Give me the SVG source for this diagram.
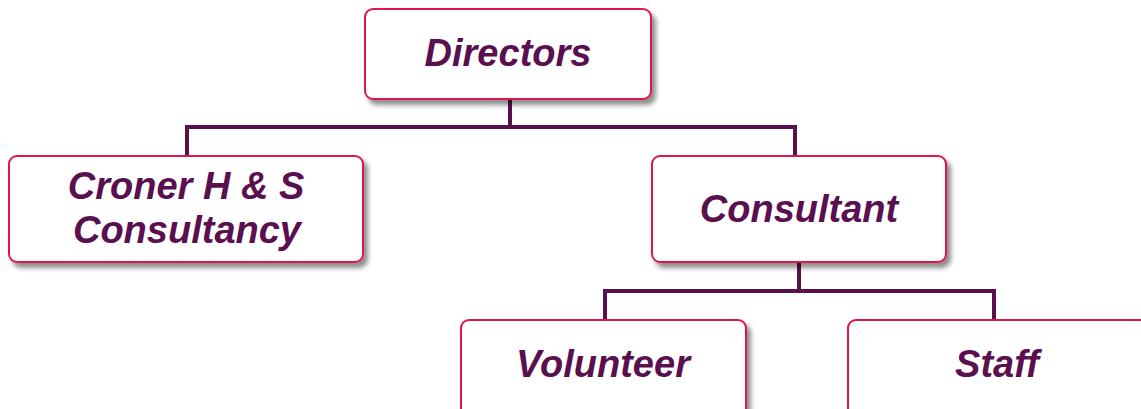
<svg xmlns="http://www.w3.org/2000/svg" width="1141" height="409" viewBox="0 0 1141 409">
<defs>
<filter id="sh" x="-10%" y="-10%" width="130%" height="140%">
<feGaussianBlur in="SourceAlpha" stdDeviation="2.5"/>
<feOffset dx="4" dy="5" result="b"/>
<feComponentTransfer><feFuncA type="linear" slope="0.45"/></feComponentTransfer>
<feMerge><feMergeNode/><feMergeNode in="SourceGraphic"/></feMerge>
</filter>
</defs>
<style>
.box{fill:#fff;stroke:#e0174a;stroke-width:2;filter:url(#sh)}
.t{font-family:"Liberation Sans",Arial,sans-serif;font-weight:bold;font-style:italic;font-size:38px;fill:#5a0f4f;text-anchor:middle}
.c{fill:none;stroke:#5a0f4f;stroke-width:4}
</style>
<rect width="1141" height="409" fill="#fff"/>
<g id="connectors">
<path class="c" d="M510 99V127M187 127H795M187 125V156M795 125V156"/>
<path class="c" d="M799 262V291M605 291H994M605 289V320M994 289V320"/>
</g>
<g id="directors"><rect class="box" x="365" y="9" width="286" height="90" rx="8"/><text class="t" x="508" y="66">Directors</text></g>
<g id="croner"><rect class="box" x="9" y="156" width="354" height="106" rx="8"/><text class="t" x="186" y="199">Croner H &amp; S</text><text class="t" x="187" y="243">Consultancy</text></g>
<g id="consultant"><rect class="box" x="652" y="156" width="294" height="106" rx="8"/><text class="t" x="799" y="222">Consultant</text></g>
<g id="volunteer"><rect class="box" x="461" y="320" width="285" height="100" rx="8"/><text class="t" x="603" y="377">Volunteer</text></g>
<g id="staff"><rect class="box" x="848" y="320" width="300" height="100" rx="8"/><text class="t" x="997" y="377">Staff</text></g>
</svg>
